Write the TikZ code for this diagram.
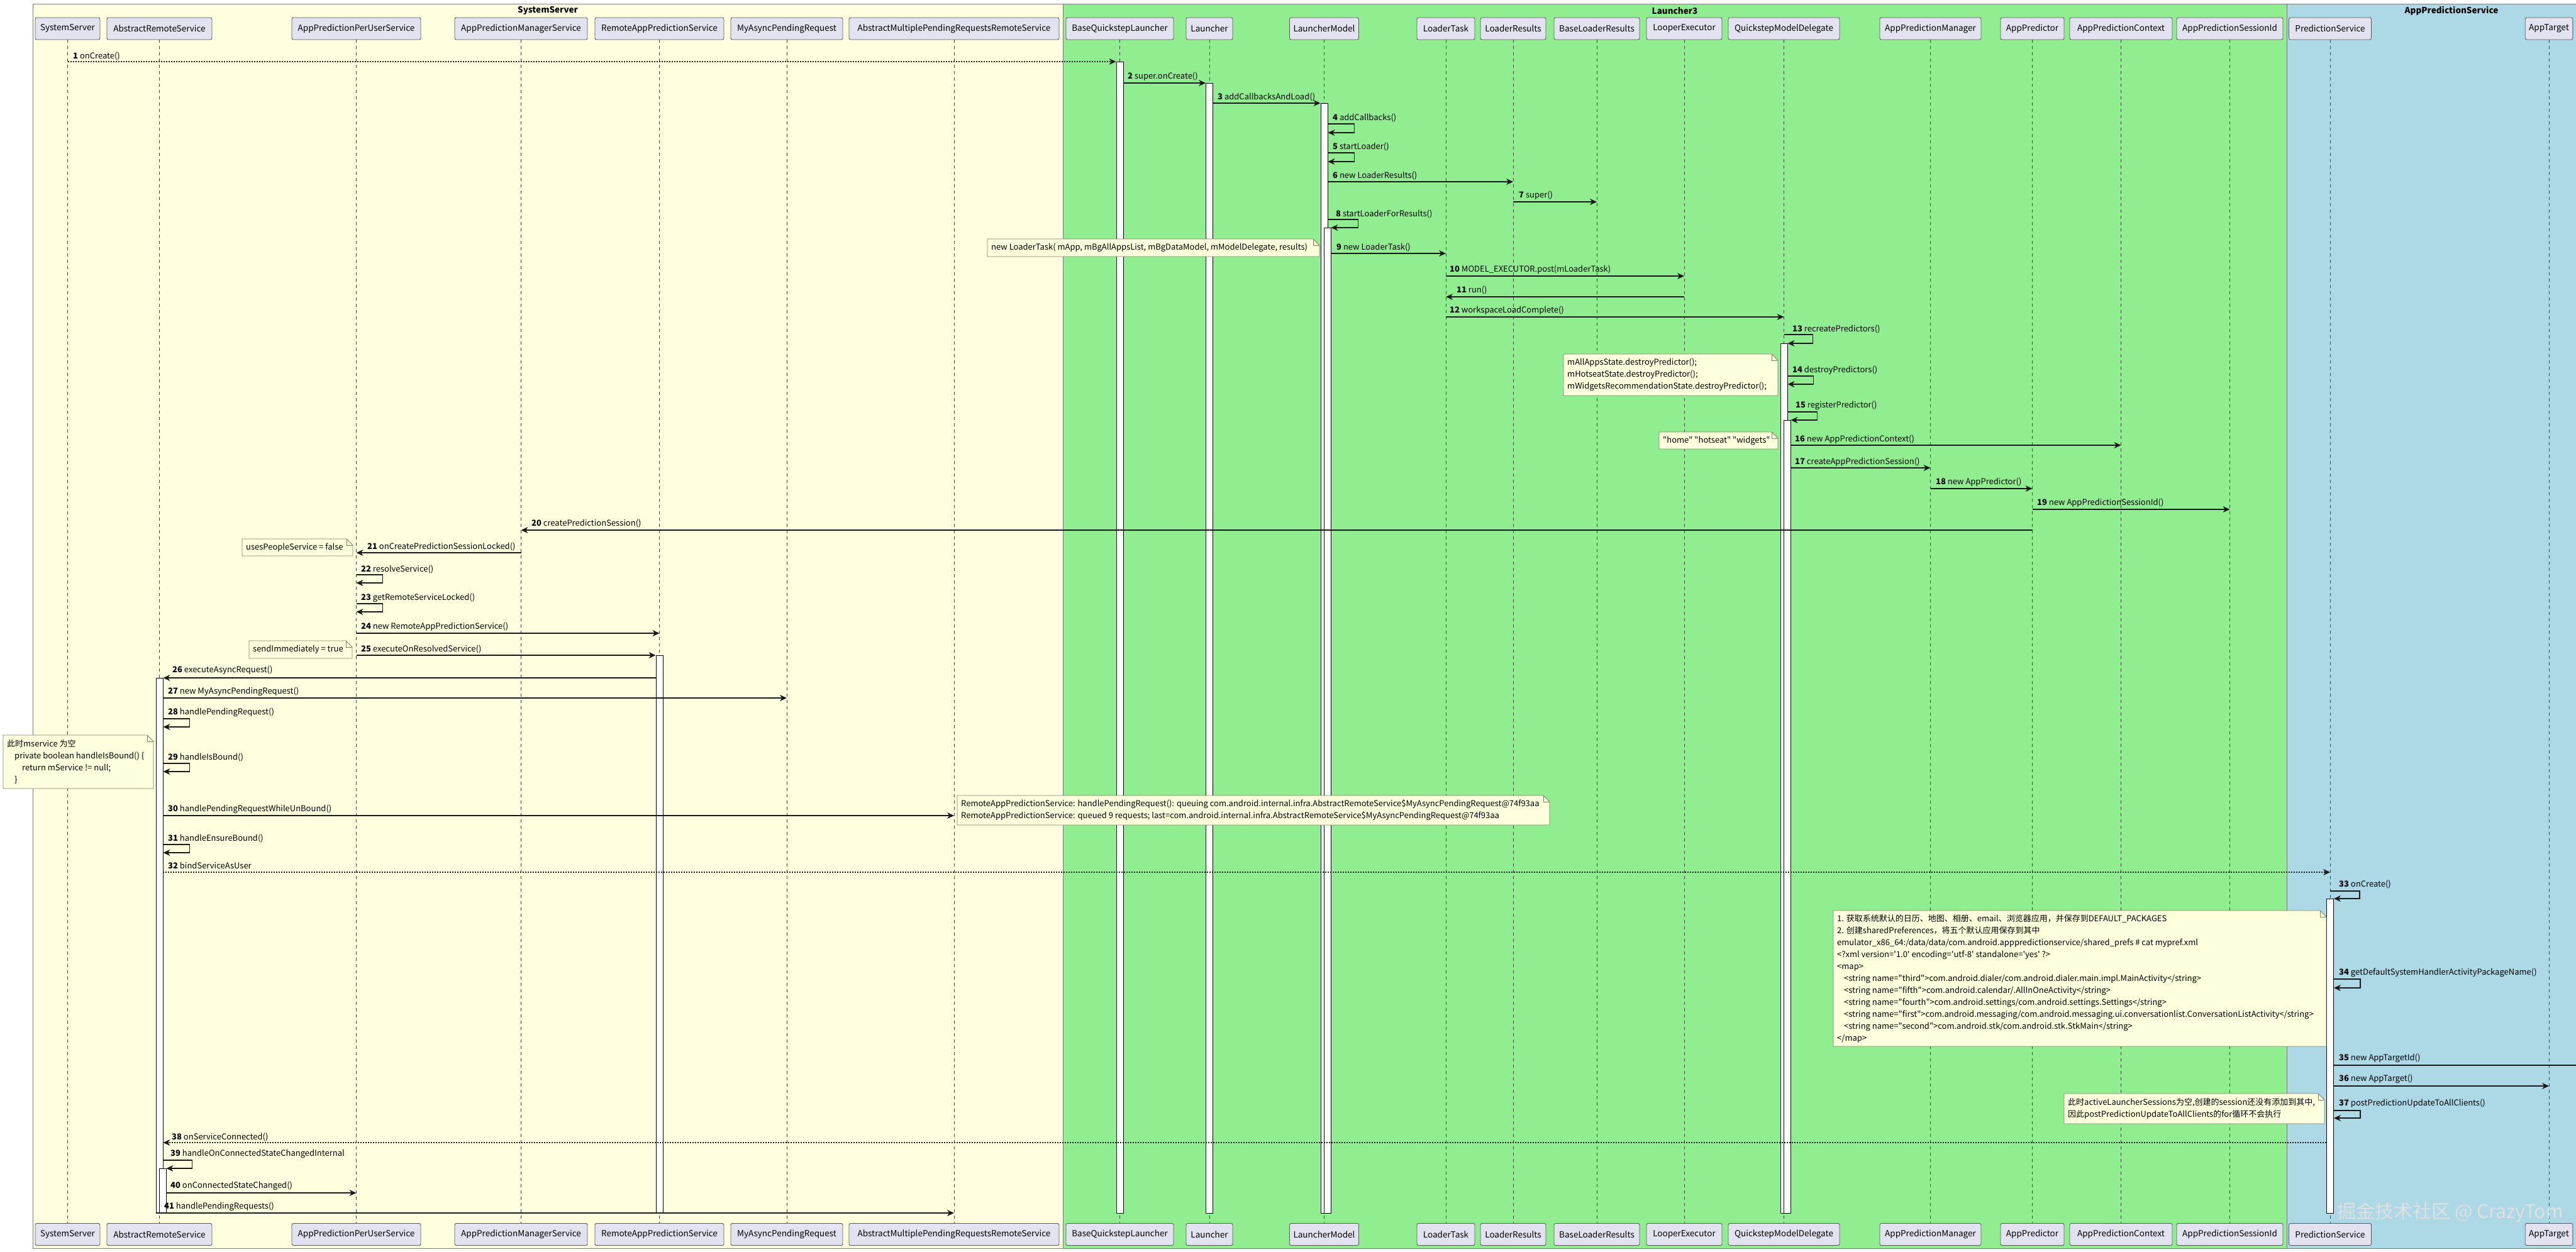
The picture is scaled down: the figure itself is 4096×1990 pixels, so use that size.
\documentclass[tikz,border=0pt]{standalone}
\usepackage{fontspec}
\setmainfont{Noto Sans CJK SC}[Ligatures=TeXOff]
\usetikzlibrary{arrows.meta,calc}
\definecolor{grpY}{HTML}{FFFFE0}
\definecolor{grpG}{HTML}{90EE90}
\definecolor{grpB}{HTML}{ADD8E6}
\definecolor{pfill}{HTML}{E2E2F0}
\definecolor{pline}{HTML}{5A5A5A}
\definecolor{notefill}{HTML}{FEFFDD}
\definecolor{notedraw}{HTML}{7F7F6A}
\definecolor{grpline}{HTML}{7A7A7A}
\newcommand\sq{\textquotesingle}
\tikzset{
 pbox/.style={draw=pline, fill=pfill, rounded corners=2.5pt, line width=0.9pt, minimum height=35pt, inner xsep=6pt, font=\fontsize{13.5}{16}\selectfont},
 lifeline/.style={draw=black!75, line width=0.8pt, dash pattern=on 5pt off 5pt},
 abar/.style={draw=black, fill=white, line width=0.9pt, minimum width=11pt, anchor=north, inner sep=0pt},
 msg/.style={draw=black!90, line width=1.2pt, -{Stealth[length=11pt,width=10pt,inset=3.5pt]}},
 dmsg/.style={msg, dash pattern=on 2pt off 2pt},
 lab/.style={anchor=west, inner sep=0pt, font=\fontsize{13}{16}\selectfont},
 notestyle/.style={draw=notedraw, fill=notefill, line width=0.9pt},
 notetext/.style={anchor=west, align=left, inner sep=0pt, font=\fontsize{13}{19}\selectfont},
 grp/.style={draw=grpline, line width=1pt},
 gtitle/.style={font=\bfseries\fontsize{13.5}{16}\selectfont, inner sep=0pt},
}
\newcommand\mkpart[4]{%
  \node[pbox, minimum width=#3pt] (#1top) at (#2,45.5) {#4};
  \node[pbox, minimum width=#3pt] (#1bot) at (#2,1963) {#4};
  \draw[lifeline] (#1top.south) -- (#1bot.north);
}
\newcommand\mkbar[4]{\node[abar, minimum height=#4pt] (#1) at (#2,#3) {};}
\newcommand\notebox[6]{%
  \filldraw[notestyle] (#2,#3) -- ({#4-10},#3) -- (#4,{#3+10}) -- (#4,#5) -- (#2,#5) -- cycle;
  \draw[notestyle,fill=none] ({#4-10},#3) -- ({#4-10},{#3+10}) -- (#4,{#3+10});
  \node[notetext] (#1) at ({#2+6},{(#3+#5)/2}) {#6};
}
\begin{document}
\begin{tikzpicture}[x=1pt,y=-1pt]
\useasboundingbox (0,0) rectangle (4096,1990);
\fill[white] (0,0) rectangle (4096,1990);
\begin{scope}
\clip (0,0) rectangle (4096,1990);
% groups
\filldraw[grp, fill=grpY] (52,6) rectangle (1690,1985);
\filldraw[grp, fill=grpG] (1690,6) rectangle (3636,1985);
\filldraw[grp, fill=grpB] (3636,6) rectangle (4160,1985);
\node[gtitle] (gSS) at (871,17) {SystemServer};
\node[gtitle] (gL3) at (2663,17) {Launcher3};
\node[gtitle] (gAPS) at (3898,17) {AppPredictionService};
% participants
\mkpart{SS}{107.5}{103}{SystemServer}
\mkpart{ARS}{253.5}{167}{AbstractRemoteService}
\mkpart{APPUS}{566.5}{205}{AppPredictionPerUserService}
\mkpart{APMS}{828.5}{211}{AppPredictionManagerService}
\mkpart{RAPS}{1048.5}{205}{RemoteAppPredictionService}
\mkpart{MAPR}{1251}{178}{MyAsyncPendingRequest}
\mkpart{AMPRRS}{1517}{334}{AbstractMultiplePendingRequestsRemoteService}
\mkpart{BQL}{1780.5}{171}{BaseQuickstepLauncher}
\mkpart{LA}{1923}{74}{Launcher}
\mkpart{LM}{2105.5}{107}{LauncherModel}
\mkpart{LT}{2299}{92}{LoaderTask}
\mkpart{LR}{2406}{104}{LoaderResults}
\mkpart{BLR}{2539}{136}{BaseLoaderResults}
\mkpart{LE}{2678}{120}{LooperExecutor}
\mkpart{QMD}{2836.5}{177}{QuickstepModelDelegate}
\mkpart{APM}{3069.5}{161}{AppPredictionManager}
\mkpart{AP}{3231.5}{101}{AppPredictor}
\mkpart{APC}{3372.5}{163}{AppPredictionContext}
\mkpart{APSI}{3545.5}{169}{AppPredictionSessionId}
\mkpart{PS}{3705}{131}{PredictionService}
\mkpart{AT}{4053}{74}{AppTarget}
\coordinate (ATIlife) at (4250,63);
% activation bars
\mkbar{BQLbar}{1780.5}{98}{1831}
\mkbar{LAbar}{1923}{132}{1797}
\mkbar{LMbar}{2105.5}{164}{1765}
\mkbar{LMbarB}{2110.5}{362}{1567}
\mkbar{QMDbar}{2836.5}{546}{1383}
\mkbar{QMDbarB}{2841.5}{668}{1261}
\mkbar{RAPSbar}{1048.5}{1042}{887}
\mkbar{ARSbar}{253.5}{1078}{851}
\mkbar{ARSbarB}{258.5}{1858}{71}
\mkbar{PSbar}{3705}{1429}{500}
% messages
\draw[dmsg] (SStop |- 0,98) -- (BQLbar.west |- 0,98);
\node[lab] (l1) at (116,89) {\textbf{1} onCreate()};
\draw[msg] (BQLbar.east |- 0,132) -- (LAbar.west |- 0,132);
\node[lab] (l2) at (1793,122) {\textbf{2} super.onCreate()};
\draw[msg] (LAbar.east |- 0,164) -- (LMbar.west |- 0,164);
\node[lab] (l3) at (1936,154) {\textbf{3} addCallbacksAndLoad()};
\draw[msg] (LMbar.east |- 0,197) -- ++(42,0) |- (LMbar.east |- 0,211);
\node[lab] (l4) at (2119,187) {\textbf{4} addCallbacks()};
\draw[msg] (LMbar.east |- 0,243) -- ++(42,0) |- (LMbar.east |- 0,257);
\node[lab] (l5) at (2119,233) {\textbf{5} startLoader()};
\draw[msg] (LMbar.east |- 0,289) -- (LRtop |- 0,289);
\node[lab] (l6) at (2119,279) {\textbf{6} new LoaderResults()};
\draw[msg] (LRtop |- 0,321) -- (BLRtop |- 0,321);
\node[lab] (l7) at (2415,311) {\textbf{7} super()};
\draw[msg] (LMbar.east |- 0,349) -- ++(48,0) |- (LMbarB.east |- 0,362);
\node[lab] (l8) at (2124,340) {\textbf{8} startLoaderForResults()};
\draw[msg] (LMbarB.east |- 0,403) -- (LTtop |- 0,403);
\node[lab] (l9) at (2125,393) {\textbf{9} new LoaderTask()};
\draw[msg] (LTtop |- 0,439) -- (LEtop |- 0,439);
\node[lab] (l10) at (2305,429) {\textbf{10} MODEL\_EXECUTOR.post(mLoaderTask)};
\draw[msg] (LEtop |- 0,472) -- (LTtop |- 0,472);
\node[lab] (l11) at (2316,461) {\textbf{11} run()};
\draw[msg] (LTtop |- 0,504) -- (QMDtop |- 0,504);
\node[lab] (l12) at (2305,494) {\textbf{12} workspaceLoadComplete()};
\draw[msg] (QMDtop |- 0,532) -- ++(46,0) |- (QMDbar.east |- 0,546);
\node[lab] (l13) at (2850,523) {\textbf{13} recreatePredictors()};
\draw[msg] (QMDbar.east |- 0,598) -- ++(41,0) |- (QMDbar.east |- 0,611);
\node[lab] (l14) at (2850,589) {\textbf{14} destroyPredictors()};
\draw[msg] (QMDbar.east |- 0,655) -- ++(47,0) |- (QMDbarB.east |- 0,668);
\node[lab] (l15) at (2855,645) {\textbf{15} registerPredictor()};
\draw[msg] (QMDbarB.east |- 0,708) -- (APCtop |- 0,708);
\node[lab] (l16) at (2854,699) {\textbf{16} new AppPredictionContext()};
\draw[msg] (QMDbarB.east |- 0,744) -- (APMtop |- 0,744);
\node[lab] (l17) at (2854,735) {\textbf{17} createAppPredictionSession()};
\draw[msg] (APMtop |- 0,777) -- (APtop |- 0,777);
\node[lab] (l18) at (3078,767) {\textbf{18} new AppPredictor()};
\draw[msg] (APtop |- 0,810) -- (APSItop |- 0,810);
\node[lab] (l19) at (3239,800) {\textbf{19} new AppPredictionSessionId()};
\draw[msg] (APtop |- 0,843) -- (APMStop |- 0,843);
\node[lab] (l20) at (845,832) {\textbf{20} createPredictionSession()};
\draw[msg] (APMStop |- 0,879) -- (APPUStop |- 0,879);
\node[lab] (l21) at (584,869) {\textbf{21} onCreatePredictionSessionLocked()};
\draw[msg] (APPUStop |- 0,914) -- ++(42,0) |- (APPUStop |- 0,927);
\node[lab] (l22) at (574,905) {\textbf{22} resolveService()};
\draw[msg] (APPUStop |- 0,960) -- ++(42,0) |- (APPUStop |- 0,973);
\node[lab] (l23) at (574,951) {\textbf{23} getRemoteServiceLocked()};
\draw[msg] (APPUStop |- 0,1007) -- (RAPStop |- 0,1007);
\node[lab] (l24) at (574,997) {\textbf{24} new RemoteAppPredictionService()};
\draw[msg] (APPUStop |- 0,1042) -- (RAPSbar.west |- 0,1042);
\node[lab] (l25) at (574,1032) {\textbf{25} executeOnResolvedService()};
\draw[msg] (RAPSbar.west |- 0,1078) -- (ARSbar.east |- 0,1078);
\node[lab] (l26) at (274,1066) {\textbf{26} executeAsyncRequest()};
\draw[msg] (ARSbar.east |- 0,1110) -- (MAPRtop |- 0,1110);
\node[lab] (l27) at (267,1100) {\textbf{27} new MyAsyncPendingRequest()};
\draw[msg] (ARSbar.east |- 0,1143) -- ++(42,0) |- (ARSbar.east |- 0,1156);
\node[lab] (l28) at (267,1133) {\textbf{28} handlePendingRequest()};
\draw[msg] (ARSbar.east |- 0,1214) -- ++(42,0) |- (ARSbar.east |- 0,1227);
\node[lab] (l29) at (267,1204) {\textbf{29} handleIsBound()};
\draw[msg] (ARSbar.east |- 0,1297) -- (AMPRRStop |- 0,1297);
\node[lab] (l30) at (267,1287) {\textbf{30} handlePendingRequestWhileUnBound()};
\draw[msg] (ARSbar.east |- 0,1343) -- ++(42,0) |- (ARSbar.east |- 0,1356);
\node[lab] (l31) at (267,1333) {\textbf{31} handleEnsureBound()};
\draw[dmsg] (ARSbar.east |- 0,1387) -- (PStop |- 0,1387);
\node[lab] (l32) at (267,1376) {\textbf{32} bindServiceAsUser};
\draw[msg] (PStop |- 0,1417) -- ++(47,0) |- (PSbar.east |- 0,1429);
\node[lab] (l33) at (3719,1406) {\textbf{33} onCreate()};
\draw[msg] (PSbar.east |- 0,1557) -- ++(42,0) |- (PSbar.east |- 0,1571);
\node[lab] (l34) at (3719,1547) {\textbf{34} getDefaultSystemHandlerActivityPackageName()};
\draw[msg] (PSbar.east |- 0,1694) -- (ATIlife |- 0,1694);
\node[lab] (l35) at (3719,1683) {\textbf{35} new AppTargetId()};
\draw[msg] (PSbar.east |- 0,1727) -- (ATtop |- 0,1727);
\node[lab] (l36) at (3719,1716) {\textbf{36} new AppTarget()};
\draw[msg] (PSbar.east |- 0,1766) -- ++(42,0) |- (PSbar.east |- 0,1778);
\node[lab] (l37) at (3719,1755) {\textbf{37} postPredictionUpdateToAllClients()};
\draw[dmsg] (PSbar.west |- 0,1817) -- (ARSbar.east |- 0,1817);
\node[lab] (l38) at (273,1808) {\textbf{38} onServiceConnected()};
\draw[msg] (ARSbar.east |- 0,1845) -- ++(46,0) |- (ARSbarB.east |- 0,1858);
\node[lab] (l39) at (271,1835) {\textbf{39} handleOnConnectedStateChangedInternal};
\draw[msg] (ARSbarB.east |- 0,1897) -- (APPUStop |- 0,1897);
\node[lab] (l40) at (271,1886) {\textbf{40} onConnectedStateChanged()};
\draw[msg] (ARSbar.west |- 0,1929) -- (AMPRRStop |- 0,1929);
\node[lab] (l41) at (261,1919) {\textbf{41} handlePendingRequests()};
% notes
\notebox{n1}{1570}{380}{2098}{408}{new LoaderTask( mApp, mBgAllAppsList, mBgDataModel, mModelDelegate, results)}
\notebox{n2}{2486}{563}{2827}{629}{mAllAppsState.destroyPredictor();\\mHotseatState.destroyPredictor();\\mWidgetsRecommendationState.destroyPredictor();}
\notebox{n3}{2638}{687}{2827}{714}{"home" "hotseat" "widgets"}
\notebox{n4}{385}{857}{561}{884}{usesPeopleService = false}
\notebox{n5}{396}{1019}{560}{1047}{sendImmediately = true}
\notebox{n6}{5}{1169}{244}{1254}{此时mservice 为空\\\hspace*{12pt}private boolean handleIsBound() \{\\\hspace*{24pt}return mService != null;\\\hspace*{12pt}\}}
\notebox{n7}{1522}{1265}{2464}{1312}{RemoteAppPredictionService: handlePendingRequest(): queuing com.android.internal.infra.AbstractRemoteService\$MyAsyncPendingRequest@74f93aa\\RemoteAppPredictionService: queued 9 requests; last=com.android.internal.infra.AbstractRemoteService\$MyAsyncPendingRequest@74f93aa}
\notebox{n8}{2915}{1448}{3699}{1664}{1. 获取系统默认的日历、地图、相册、email、浏览器应用，并保存到DEFAULT\_PACKAGES\\2. 创建sharedPreferences，将五个默认应用保存到其中\\emulator\_x86\_64:/data/data/com.android.apppredictionservice/shared\_prefs \# cat mypref.xml\\<?xml version=\sq1.0\sq{} encoding=\sq utf-8\sq{} standalone=\sq yes\sq{} ?>\\<map>\\\hspace*{11pt}<string name="third">com.android.dialer/com.android.dialer.main.impl.MainActivity</string>\\\hspace*{11pt}<string name="fifth">com.android.calendar/.AllInOneActivity</string>\\\hspace*{11pt}<string name="fourth">com.android.settings/com.android.settings.Settings</string>\\\hspace*{11pt}<string name="first">com.android.messaging/com.android.messaging.ui.conversationlist.ConversationListActivity</string>\\\hspace*{11pt}<string name="second">com.android.stk/com.android.stk.StkMain</string>\\</map>}
\notebox{n9}{3282}{1739}{3696}{1787}{此时activeLauncherSessions为空,创建的session还没有添加到其中,\\因此postPredictionUpdateToAllClients的for循环不会执行}
% watermark
\node[text=white!88!black, font=\fontsize{30}{32}\selectfont, inner sep=0pt] (wm) at (3896,1928) {掘金技术社区 @ CrazyTom};
\end{scope}
\end{tikzpicture}
\end{document}
